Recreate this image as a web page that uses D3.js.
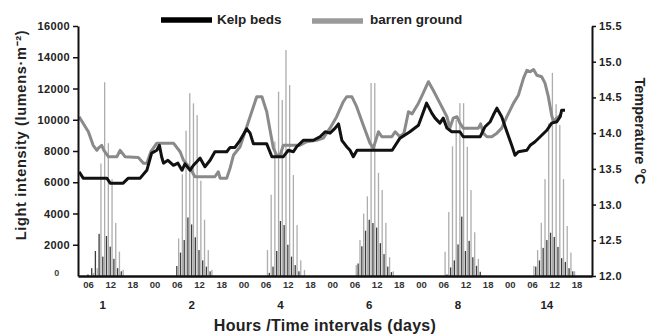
<!DOCTYPE html>
<html>
<head>
<meta charset="utf-8">
<script src="https://cdn.jsdelivr.net/npm/d3@7"></script>
<style>
  body { margin: 0; background: #fff; }
  svg text { font-family: "Liberation Sans", Arial, sans-serif; font-weight: bold; }
</style>
</head>
<body>
<svg id="chart" width="649" height="335"></svg>
<script>
// Sampling days shown along the time axis
const dayLabels = ["1", "2", "4", "6", "8", "14"];
const hourLabels = ["06", "12", "18", "00"];
const lightTicks = [0, 2000, 4000, 6000, 8000, 10000, 12000, 14000, 16000];
const tempTicks = [12.0, 12.5, 13.0, 13.5, 14.0, 14.5, 15.0, 15.5];

// Hour of day for each hourly light reading (06:00 ... 17:00)
const barHours = [6, 7, 8, 9, 10, 11, 12, 13, 14, 15, 16, 17];

// Light intensity (lumens·m-2), one row per sampling day
const kelpLight = [
  [100, 500, 1600, 2700, 1240, 2560, 1880, 1100, 500, 300, 0, 0],
  [640, 1500, 2300, 3750, 3300, 2480, 1660, 1000, 600, 300, 0, 0],
  [0, 200, 600, 1600, 3520, 3260, 2000, 1240, 700, 300, 0, 0],
  [0, 800, 1900, 2900, 3600, 3390, 3100, 2100, 1400, 600, 250, 0],
  [0, 100, 550, 1000, 2020, 3800, 1600, 2250, 1200, 650, 270, 0],
  [0, 600, 1000, 1800, 2300, 2770, 2500, 1860, 1140, 900, 500, 300]
];
const barrenLight = [
  [0, 200, 500, 7200, 12400, 8500, 6200, 3400, 1560, 400, 0, 0],
  [2400, 6500, 9300, 11700, 11050, 10300, 6100, 3600, 1660, 400, 0, 0],
  [1660, 5200, 8600, 11800, 11260, 14460, 12220, 6460, 3260, 1000, 380, 0],
  [700, 2300, 4000, 5100, 12350, 12350, 6600, 5500, 3400, 1200, 300, 0],
  [1550, 4100, 8300, 10000, 11060, 11060, 8270, 5500, 2800, 1100, 0, 0],
  [640, 1660, 3400, 6200, 9770, 13000, 11000, 9660, 6200, 3200, 1500, 300]
];

// Temperature (°C): [elapsed plotted hours, value]
const kelpTemp = [
  [3.6, 13.46], [4.7, 13.37], [11.1, 13.37], [12.0, 13.30], [15.5, 13.30], [16.9, 13.37],
  [20.1, 13.37], [21.9, 13.48], [23.2, 13.72], [24.6, 13.76], [25.3, 13.83], [25.9, 13.67],
  [26.4, 13.58], [27.6, 13.62], [29.1, 13.55], [30.3, 13.58], [31.4, 13.48], [32.2, 13.57],
  [33.6, 13.48], [34.5, 13.55], [35.4, 13.60], [36.3, 13.65], [37.6, 13.53], [39.0, 13.62],
  [40.3, 13.74], [43.5, 13.74], [44.4, 13.80], [45.7, 13.80], [47.1, 13.90], [48.2, 14.00],
  [48.9, 14.06], [49.8, 14.00], [50.7, 13.85], [54.3, 13.85], [55.7, 13.67], [58.8, 13.67],
  [60.1, 13.76], [61.5, 13.74], [62.4, 13.81], [64.2, 13.90], [66.9, 13.90], [68.7, 13.95],
  [70.1, 14.02], [71.4, 14.00], [72.8, 14.07], [73.7, 14.13], [74.6, 13.90], [75.9, 13.81],
  [76.8, 13.76], [77.7, 13.67], [78.7, 13.76], [88.2, 13.76], [90.3, 13.93], [93.0, 14.02],
  [95.3, 14.11], [96.0, 14.21], [97.5, 14.42], [98.9, 14.28], [99.8, 14.21], [101.1, 14.14],
  [102.0, 14.21], [103.0, 14.07], [104.3, 14.02], [106.5, 14.02], [107.4, 13.95], [112.0, 13.95],
  [113.3, 14.09], [114.7, 14.16], [115.5, 14.25], [116.5, 14.35], [117.8, 14.23], [119.2, 14.02],
  [120.5, 13.83], [121.4, 13.69], [122.3, 13.74], [124.6, 13.76], [125.5, 13.83], [126.8, 13.88],
  [128.2, 13.95], [130.0, 14.04], [131.3, 14.14], [132.7, 14.16], [133.6, 14.23], [134.0, 14.32],
  [134.9, 14.32]
];
const barrenTemp = [
  [3.6, 14.23], [6.1, 14.02], [7.4, 13.83], [8.4, 13.76], [8.8, 13.79], [9.7, 13.83],
  [10.3, 13.76], [11.5, 13.67], [13.8, 13.67], [14.7, 13.76], [16.0, 13.67], [19.6, 13.66],
  [21.0, 13.58], [21.9, 13.58], [23.0, 13.74], [24.6, 13.86], [29.1, 13.86], [30.9, 13.74],
  [31.8, 13.62], [33.6, 13.51], [34.9, 13.39], [40.3, 13.39], [41.2, 13.46], [41.7, 13.37],
  [43.5, 13.37], [44.4, 13.51], [45.3, 13.69], [47.1, 13.81], [48.9, 14.09], [50.7, 14.37],
  [51.6, 14.51], [53.0, 14.51], [54.3, 14.30], [55.2, 14.04], [56.1, 13.79], [57.0, 13.69],
  [57.9, 13.69], [58.8, 13.83], [63.3, 13.83], [65.1, 13.88], [67.8, 13.90], [69.6, 13.93],
  [71.4, 14.07], [73.2, 14.23], [75.0, 14.44], [75.9, 14.51], [77.3, 14.51], [78.6, 14.37],
  [80.4, 14.11], [82.2, 13.86], [83.1, 13.79], [84.5, 14.02], [85.4, 13.95], [88.1, 13.95],
  [89.0, 14.02], [90.3, 13.95], [91.4, 14.00], [92.6, 14.30], [93.6, 14.27], [95.3, 14.42],
  [96.3, 14.53], [98.0, 14.72], [99.3, 14.60], [101.1, 14.42], [103.0, 14.23], [103.8, 14.07],
  [104.7, 14.21], [105.7, 14.23], [106.5, 14.14], [107.4, 14.07], [111.5, 14.07], [112.1, 14.13],
  [112.8, 14.00], [113.8, 13.95], [115.1, 13.95], [116.5, 14.00], [117.8, 14.07], [119.2, 14.23],
  [121.0, 14.42], [122.3, 14.53], [123.7, 14.77], [124.6, 14.88], [125.5, 14.86], [126.4, 14.89],
  [127.3, 14.81], [128.6, 14.79], [129.5, 14.70], [130.4, 14.51], [131.3, 14.25], [131.8, 14.16],
  [132.7, 14.21], [133.6, 14.25], [134.1, 14.25]
];

const svg = d3.select("#chart");
const plot = { left: 78, right: 592, top: 26, bottom: 276 };

// Each sampling day occupies 24 consecutive hours on the time axis
const x = d3.scaleLinear().domain([3.3, 142.2]).range([plot.left, plot.right]);
const yLight = d3.scaleLinear().domain([0, 16000]).range([plot.bottom, plot.top]);
const yTemp = d3.scaleLinear().domain([12, 15.5]).range([plot.bottom, plot.top]);

const barW = 1.3;
const bars = svg.append("g");
dayLabels.forEach((d, i) => {
  barHours.forEach((h, j) => {
    const t = i * 24 + h;
    bars.append("rect")
      .attr("x", x(t + 0.5) - barW / 2)
      .attr("y", yLight(barrenLight[i][j]))
      .attr("width", barW)
      .attr("height", yLight(0) - yLight(barrenLight[i][j]))
      .attr("fill", "#adadad");
    bars.append("rect")
      .attr("x", x(t) - barW / 2)
      .attr("y", yLight(kelpLight[i][j]))
      .attr("width", barW)
      .attr("height", yLight(0) - yLight(kelpLight[i][j]))
      .attr("fill", "#3c3c3c");
  });
});

// Temperature traces
const line = d3.line().x(d => x(d[0])).y(d => yTemp(d[1]));
svg.append("path").datum(barrenTemp)
  .attr("d", line).attr("fill", "none")
  .attr("stroke", "#8a8a8a").attr("stroke-width", 3).attr("stroke-linejoin", "round");
svg.append("path").datum(kelpTemp)
  .attr("d", line).attr("fill", "none")
  .attr("stroke", "#111").attr("stroke-width", 3).attr("stroke-linejoin", "round");

// Left axis: light intensity
const gL = svg.append("g").attr("transform", `translate(${plot.left},0)`)
  .call(d3.axisLeft(yLight).tickValues(lightTicks).tickSize(5).tickSizeOuter(0).tickPadding(3)
    .tickFormat(d => String(d)));
gL.select(".domain").attr("stroke", "#111").attr("stroke-width", 2);
gL.selectAll(".tick line").attr("stroke", "#111").attr("stroke-width", 1.5);
gL.selectAll(".tick text").attr("font-size", 11).attr("fill", "#222").attr("letter-spacing", 0.4);
gL.selectAll(".tick").filter(d => d === 0).each(function () {
  d3.select(this).select("line").remove();
  d3.select(this).select("text").attr("x", -21).attr("text-anchor", "middle")
    .attr("dy", "-0.05em").attr("font-size", 9).attr("fill", "#444");
});

// Right axis: temperature
const gR = svg.append("g").attr("transform", `translate(${plot.right},0)`)
  .call(d3.axisRight(yTemp).tickValues(tempTicks).tickSize(4).tickSizeOuter(0).tickPadding(3)
    .tickFormat(d3.format(".1f")));
gR.select(".domain").attr("stroke", "#111").attr("stroke-width", 2);
gR.selectAll(".tick line").attr("stroke", "#111").attr("stroke-width", 1.5);
gR.selectAll(".tick text").attr("font-size", 11).attr("fill", "#222").attr("letter-spacing", 0.4);

// Bottom axis: clock hours
const hourTicks = d3.range(6, 6 + 6 * 23, 6);
const gB = svg.append("g").attr("transform", `translate(0,${plot.bottom})`)
  .call(d3.axisBottom(x).tickValues(hourTicks).tickSize(0).tickSizeOuter(0).tickPadding(5)
    .tickFormat(t => hourLabels[((t - 6) / 6) % 4]));
gB.select(".domain").attr("stroke", "#111").attr("stroke-width", 2.5);
gB.selectAll(".tick text").attr("font-size", 9.5).attr("fill", "#333");

// Day labels
svg.append("g").selectAll("text").data(dayLabels).join("text")
  .attr("x", (d, i) => x(i * 24 + 10))
  .attr("y", 309)
  .attr("text-anchor", "middle")
  .attr("font-size", 11.5)
  .attr("fill", "#222")
  .text(d => d);

// Axis titles
svg.append("text")
  .attr("x", 325).attr("y", 331).attr("text-anchor", "middle")
  .attr("font-size", 16).attr("fill", "#222").attr("letter-spacing", 0.3)
  .text("Hours /Time intervals (days)");

svg.append("text")
  .attr("transform", "translate(26,135) rotate(-90)")
  .attr("text-anchor", "middle").attr("font-size", 14.5).attr("fill", "#222")
  .attr("letter-spacing", 0.7)
  .text("Light intensity (lumens·m⁻²)");

svg.append("text")
  .attr("transform", "translate(635,131) rotate(90)")
  .attr("text-anchor", "middle").attr("font-size", 14.5).attr("fill", "#222")
  .text("Temperature °C");

// Legend
const legend = svg.append("g");
legend.append("line").attr("x1", 161).attr("x2", 212).attr("y1", 20).attr("y2", 20)
  .attr("stroke", "#000").attr("stroke-width", 5.5);
legend.append("text").attr("x", 217).attr("y", 24).attr("font-size", 13.5).attr("fill", "#222")
  .text("Kelp beds");
legend.append("line").attr("x1", 312).attr("x2", 363).attr("y1", 21).attr("y2", 21)
  .attr("stroke", "#9a9a9a").attr("stroke-width", 5.5);
legend.append("text").attr("x", 370).attr("y", 24).attr("font-size", 13.5).attr("fill", "#222")
  .text("barren ground");
</script>
</body>
</html>
